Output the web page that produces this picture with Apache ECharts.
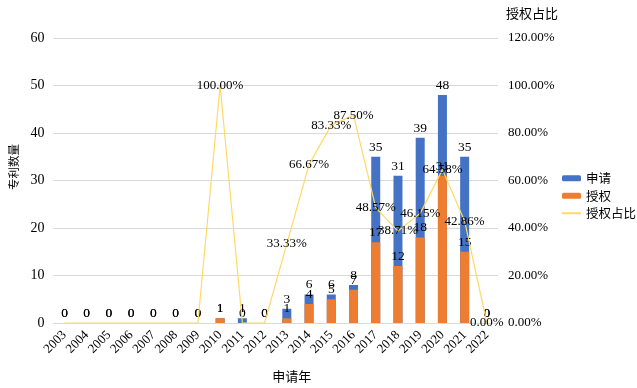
<!DOCTYPE html>
<html><head><meta charset="utf-8">
<script src="https://cdn.jsdelivr.net/npm/echarts@6/dist/echarts.min.js"></script>
<style>html,body{margin:0;padding:0;background:#fff}#c{width:637px;height:388px}</style>
</head><body><div id="c"></div>
<script>
var years = ['2003','2004','2005','2006','2007','2008','2009','2010','2011','2012','2013','2014','2015','2016','2017','2018','2019','2020','2021','2022'];
var applied = [0,0,0,0,0,0,0,1,1,0,3,6,6,8,35,31,39,48,35,0];
var granted = [0,0,0,0,0,0,0,1,0,0,1,4,5,7,17,12,18,31,15,0];
var ratio = [0,0,0,0,0,0,0,100,0,0,33.33,66.67,83.33,87.5,48.57,38.71,46.15,64.58,42.86,0];
var ratioLabelShown = [0,0,0,0,0,0,0,1,0,0,1,1,1,1,1,1,1,1,1,1];
var leftTicks = {min:0, max:60, interval:10};
var rightTicks = {min:0, max:120, interval:20};

var FONT = '"Liberation Serif","Noto Sans CJK SC",serif';
var CJK = '"Noto Sans CJK SC",sans-serif';
var chart = echarts.init(document.getElementById('c'), null, {renderer:'canvas'});
var lbl = {show:true, position:'top', distance:3, color:'#000', fontFamily:FONT, fontSize:13.5};
chart.setOption({
  animation:false,
  textStyle:{fontFamily:FONT},
  grid:{left:52, right:139, top:38, bottom:62, containLabel:false},
  legend:{
    orient:'vertical', left:561, top:172, itemWidth:19, itemHeight:6, itemGap:5, padding:0,
    textStyle:{fontFamily:CJK, fontSize:12.5, color:'#000'},
    data:[{name:'申请'},{name:'授权'},{name:'授权占比'}]
  },
  xAxis:{
    type:'category', data:years,
    name:'申请年', nameLocation:'middle', nameGap:47,
    nameTextStyle:{fontFamily:CJK, fontSize:13, color:'#000', padding:[0,0,0,32]},
    axisLine:{show:true, lineStyle:{color:'#d9d9d9'}},
    axisTick:{show:false},
    axisLabel:{rotate:45, margin:10, color:'#000', fontFamily:FONT, fontSize:13, interval:0}
  },
  yAxis:[{
    type:'value', min:leftTicks.min, max:leftTicks.max, interval:leftTicks.interval,
    name:'专利数量', nameLocation:'middle', nameGap:33, nameRotate:90,
    nameTextStyle:{fontFamily:CJK, fontSize:11.5, color:'#000', padding:[0,0,0,27]},
    axisLine:{show:false}, axisTick:{show:false},
    axisLabel:{margin:9, color:'#000', fontFamily:FONT, fontSize:14},
    splitLine:{lineStyle:{color:'#d9d9d9'}}
  },{
    type:'value', min:rightTicks.min, max:rightTicks.max, interval:rightTicks.interval,
    position:'right',
    name:'授权占比', nameLocation:'end', nameGap:18,
    nameTextStyle:{fontFamily:CJK, fontSize:13, color:'#000', align:'left', padding:[0,0,0,8]},
    axisLine:{show:false}, axisTick:{show:false},
    axisLabel:{margin:10, color:'#000', fontFamily:FONT, fontSize:13,
      formatter:function(v){return v.toFixed(2)+'%';}},
    splitLine:{show:false}
  }],
  series:[{
    name:'申请', type:'bar', data:applied, barWidth:9, barGap:'-100%',
    itemStyle:{color:'#4472C4'}, label:lbl, z:2
  },{
    name:'授权', type:'bar', data:granted, barWidth:9, barGap:'-100%',
    itemStyle:{color:'#ED7D31'}, label:lbl, z:3
  },{
    name:'授权占比', type:'line', yAxisIndex:1,
    data: ratio.map(function(v,i){return {value:v, label:{show:!!ratioLabelShown[i]}};}),
    symbol:'circle', symbolSize:1, itemStyle:{color:'rgba(0,0,0,0)'},
    lineStyle:{color:'#FFD966', width:1.2},
    label:{position:'inside', color:'#000', fontFamily:FONT, fontSize:13,
      formatter:function(p){return p.value.toFixed(2)+'%';}},
    z:4
  }]
});
</script></body></html>
